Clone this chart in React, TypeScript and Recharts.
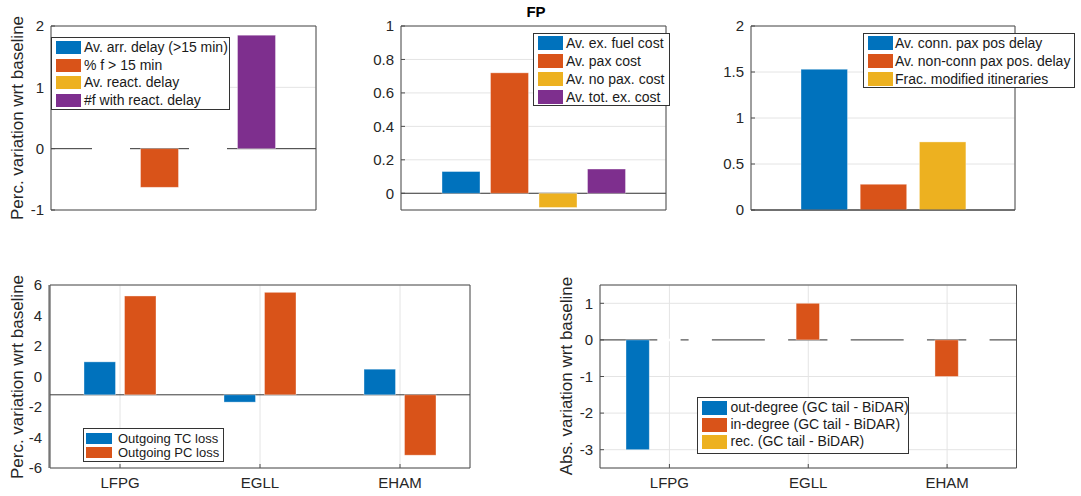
import React from 'react';
import { BarChart, Bar, XAxis, YAxis, CartesianGrid, ReferenceLine } from 'recharts';

const COLORS = ['#0072BD', '#D95319', '#EDB120', '#7E2F8E'];
const AX = '#4d4d4d';
const TXT = '#262626';
const GRID = '#e4e4e4';
const FONT = '"Liberation Sans", Arial, Helvetica, sans-serif';

// top-left: delay indicators
const delayLabels = ['Av. arr. delay (>15 min)', '% f > 15 min', 'Av. react. delay', '#f with react. delay'];
const delayValues = [0, -0.63, 0, 1.85];
const delayTicks = [-1, 0, 1, 2];

// top-middle: FP costs
const costLabels = ['Av. ex. fuel cost', 'Av. pax cost', 'Av. no pax. cost', 'Av. tot. ex. cost'];
const costValues = [0.13, 0.72, -0.085, 0.145];
const costTicks = [0, 0.2, 0.4, 0.6, 0.8, 1];

// top-right: passenger indicators
const paxLabels = ['Av. conn. pax pos delay', 'Av. non-conn pax pos. delay', 'Frac. modified itineraries'];
const paxValues = [1.53, 0.28, 0.74];
const paxTicks = [0, 0.5, 1, 1.5, 2];

// bottom: airports
const airports = ['LFPG', 'EGLL', 'EHAM'];

const lossLabels = ['Outgoing TC loss', 'Outgoing PC loss'];
const tcLoss = [1.8, -0.4, 1.4];
const pcLoss = [5.4, 5.6, -3.3];
const lossGridTicks = [-4, -2, 0, 2, 4, 6];
const lossTickLabels = [-6, -4, -2, 0, 2, 4, 6];

const degreeLabels = ['out-degree (GC tail - BiDAR)', 'in-degree (GC tail - BiDAR)', 'rec. (GC tail - BiDAR)'];
const outDegree = [-3, 0, 0];
const inDegree = [0, 1, -1];
const recDegree = [0, 0, 0];
const degreeTicks = [-3, -2, -1, 0, 1];

const keysFor = (n: number) => Array.from({ length: n }, (_, i) => `s${i}`);
const singleRow = (vals: number[]) => [
  Object.fromEntries([['name', ''], ...vals.map((v, i) => [`s${i}`, v])]),
];
const groupedRows = (cats: string[], series: number[][]) =>
  cats.map((c, j) => Object.fromEntries([['name', c], ...series.map((s, i) => [`s${i}`, s[j]])]));

const MIN_PT = 0.5;

// zero-valued bars paint over the baseline in white, like the matlab figure
const MatlabBar = (props: any) => {
  const { x, y, width, height, fill } = props;
  if (height == null || Math.abs(height) <= MIN_PT + 0.01) {
    const base = y + (height || 0);
    return <line x1={x} x2={x + width} y1={base} y2={base} stroke="#fff" strokeWidth={2.5} />;
  }
  const top = height < 0 ? y + height : y;
  return (
    <rect x={x} y={top} width={width} height={Math.abs(height)} fill={fill}
      stroke="#fff" strokeOpacity={0.45} strokeWidth={0.8} />
  );
};

type PanelProps = {
  x: number; y: number; w: number; h: number;
  data: any[]; n: number;
  domain: [number, number]; ticks: number[];
  barSize: number; barGap: number;
  showX?: boolean;
  labelDomain?: [number, number]; labelTicks?: number[];
};

function Panel(p: PanelProps) {
  const YW = 45, MT = 12, MR = 6, XH = 30;
  const axisTick = { fill: TXT, fontSize: 15, fontFamily: FONT };
  const split = !!p.labelTicks;
  const keys = keysFor(p.n);
  return (
    <div style={{ position: 'absolute', left: p.x - YW, top: p.y - MT }}>
      <BarChart
        width={YW + p.w + MR + 1}
        height={MT + p.h + XH}
        data={p.data}
        margin={{ top: MT - 1, right: MR, bottom: 0, left: 0 }}
        barSize={p.barSize}
        barGap={p.barGap}
      >
        <CartesianGrid stroke={GRID} />
        <XAxis dataKey="name" interval={0} height={XH} stroke={AX}
          tick={p.showX ? axisTick : false} tickSize={-4} tickMargin={13} />
        <XAxis xAxisId="top" orientation="top" dataKey="name" interval={0} height={1}
          stroke={AX} tick={false} tickSize={-4} />
        <YAxis type="number" domain={p.domain} ticks={p.ticks} allowDataOverflow interval={0}
          width={split ? 1 : YW} stroke={AX} tick={split ? false : axisTick} tickSize={-4} tickMargin={11} />
        {split && (
          <YAxis yAxisId="lab" type="number" domain={p.labelDomain} ticks={p.labelTicks} allowDataOverflow
            interval={0} width={YW - 1} stroke={AX} tick={axisTick} tickLine={false} tickSize={-4} tickMargin={11} />
        )}
        <YAxis yAxisId="r" orientation="right" type="number" domain={p.domain} ticks={p.ticks}
          allowDataOverflow interval={0} width={1} stroke={AX} tick={false} tickSize={-4} />
        <ReferenceLine y={0} stroke="#3a3a3a" strokeWidth={1} {...({ zIndex: -50 } as any)} />
        {keys.map((k, i) => (
          <Bar key={k} dataKey={k} fill={COLORS[i]} isAnimationActive={false}
            minPointSize={MIN_PT} shape={MatlabBar} />
        ))}
      </BarChart>
    </div>
  );
}

type LegendProps = {
  left: number; top: number; width: number; height: number;
  labels: string[]; fontSize: number;
  rowTop: number; rowStep: number; swH: number;
  swX: number; swW: number; textX: number;
};

function LegendBox(l: LegendProps) {
  return (
    <div style={{
      position: 'absolute', left: l.left, top: l.top, width: l.width, height: l.height,
      border: '1px solid #333', background: '#fff', boxSizing: 'border-box',
    }}>
      {l.labels.map((lab, i) => (
        <div key={lab} style={{ position: 'absolute', left: 0, top: l.rowTop + i * l.rowStep - 1, height: l.swH, width: '100%' }}>
          <div style={{ position: 'absolute', left: l.swX, top: 0, width: l.swW, height: l.swH, background: COLORS[i] }} />
          <div style={{
            position: 'absolute', left: l.textX, top: 0, height: l.swH, lineHeight: `${l.swH}px`,
            fontSize: l.fontSize, fontFamily: FONT, color: '#1a1a1a', whiteSpace: 'nowrap',
          }}>{lab}</div>
        </div>
      ))}
    </div>
  );
}

function YTitle({ x, y, text }: { x: number; y: number; text: string }) {
  return (
    <div style={{
      position: 'absolute', left: x, top: y, transform: 'translate(-50%, -50%) rotate(-90deg)',
      fontSize: 17, fontFamily: FONT, color: TXT, whiteSpace: 'nowrap',
    }}>{text}</div>
  );
}

export default function App() {
  return (
    <div style={{ position: 'absolute', left: 0, top: 0, width: 1081, height: 496, background: '#fff', overflow: 'hidden' }}>
      <Panel x={51} y={26} w={265} h={184} data={singleRow(delayValues)} n={4}
        domain={[-1, 2]} ticks={delayTicks} barSize={38} barGap={10.5} />
      <Panel x={401} y={26} w={265} h={184} data={singleRow(costValues)} n={4}
        domain={[-0.1, 1]} ticks={costTicks} barSize={38} barGap={10.5} />
      <Panel x={751} y={26} w={264} h={184} data={singleRow(paxValues)} n={3}
        domain={[0, 2]} ticks={paxTicks} barSize={46.5} barGap={12.7} />
      <Panel x={50} y={285} w={420} h={183} data={groupedRows(airports, [tcLoss, pcLoss])} n={2}
        domain={[-4, 6]} ticks={lossGridTicks} barSize={31.5} barGap={9} showX
        labelDomain={[-6, 6]} labelTicks={lossTickLabels} />
      <Panel x={599.5} y={285} w={416.5} h={183} data={groupedRows(airports, [outDegree, inDegree, recDegree])} n={3}
        domain={[-3.5, 1.5]} ticks={degreeTicks} barSize={23.3} barGap={8} showX />

      <div style={{
        position: 'absolute', left: 536, top: 11, transform: 'translate(-50%, -50%)',
        fontSize: 15, fontWeight: 'bold', fontFamily: FONT, color: '#000',
      }}>FP</div>

      <YTitle x={18} y={118} text="Perc. variation wrt baseline" />
      <YTitle x={18} y={377} text="Perc. variation wrt baseline" />
      <YTitle x={567} y={376} text="Abs. variation wrt baseline" />

      <LegendBox left={51} top={37} width={179} height={73} labels={delayLabels} fontSize={14}
        rowTop={3.7} rowStep={17.8} swH={13} swX={4} swW={25} textX={32} />
      <LegendBox left={533} top={33} width={137} height={73} labels={costLabels} fontSize={14}
        rowTop={3} rowStep={18} swH={14} swX={4} swW={25} textX={32} />
      <LegendBox left={863} top={33} width={212} height={55} labels={paxLabels} fontSize={14}
        rowTop={3} rowStep={17.9} swH={14} swX={4} swW={25} textX={31} />
      <LegendBox left={82.5} top={427.5} width={141} height={34.5} labels={lossLabels} fontSize={13}
        rowTop={5} rowStep={14.4} swH={11.5} swX={2.5} swW={25.5} textX={34.5} />
      <LegendBox left={697} top={397} width={212} height={57} labels={degreeLabels} fontSize={14}
        rowTop={4.4} rowStep={17} swH={13.5} swX={4} swW={25} textX={32.5} />
    </div>
  );
}
